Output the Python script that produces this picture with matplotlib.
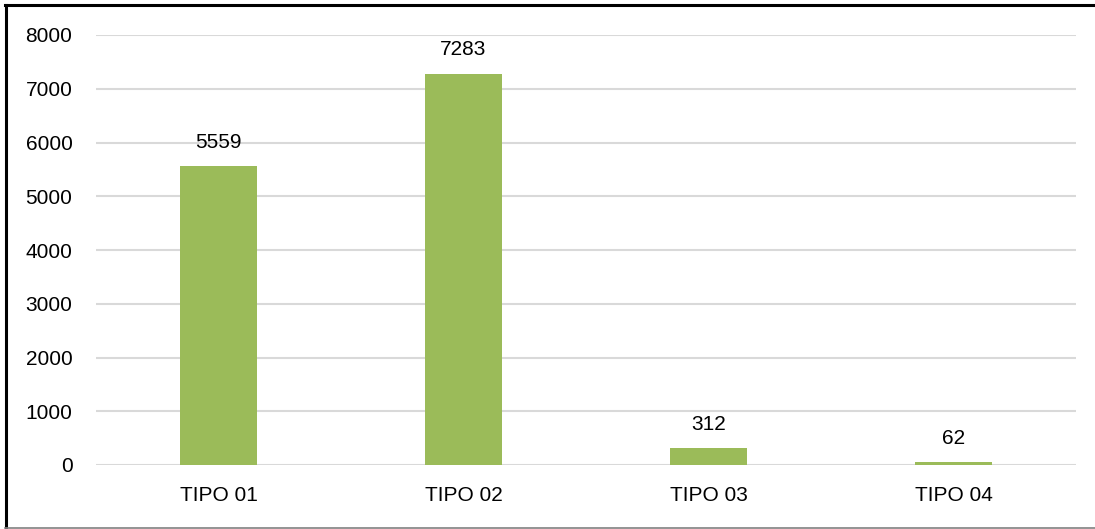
import matplotlib
matplotlib.use("Agg")
import matplotlib.pyplot as plt
from matplotlib.lines import Line2D

categories = ["TIPO 01", "TIPO 02", "TIPO 03", "TIPO 04"]
values = [5559, 7283, 312, 62]
yticks = [0, 1000, 2000, 3000, 4000, 5000, 6000, 7000, 8000]

plt.rcParams['font.family'] = ['Liberation Sans', 'DejaVu Sans']
fs = 15

fig = plt.figure(figsize=(10.95, 5.29), dpi=100)
ax = fig.add_axes([96/1095, 1-465/529, 980/1095, 430/529])

x = range(len(categories))
ax.bar(x, values, width=0.315, color="#9BBB59", zorder=3)
for xi, v in zip(x, values):
    ax.annotate(str(v), (xi, v), xytext=(0, 13), textcoords="offset points",
                ha="center", va="baseline", fontsize=fs, color="black")

ax.set_xlim(-0.5, 3.5)
ax.set_ylim(0, 8000)
ax.set_yticks(yticks)
ax.set_xticks(list(x))
ax.set_xticklabels(categories)
ax.tick_params(axis="both", length=0, labelsize=fs, colors="black")
ax.tick_params(axis="y", pad=17)
ax.tick_params(axis="x", pad=15)
ax.yaxis.grid(True, color="#D9D9D9", linewidth=1.5, zorder=0)
for s in ax.spines.values():
    s.set_visible(False)

# figure frame
fig.add_artist(Line2D([5/1095, 1.0], [1-5/529, 1-5/529], color="black", linewidth=2.2, transform=fig.transFigure))
fig.add_artist(Line2D([6/1095, 6/1095], [1-5/529, 1-527/529], color="black", linewidth=2.2, transform=fig.transFigure))
fig.add_artist(Line2D([5/1095, 1.0], [1-527.5/529, 1-527.5/529], color="#808080", linewidth=1.2, transform=fig.transFigure))

fig.savefig("out.png", dpi=100)
